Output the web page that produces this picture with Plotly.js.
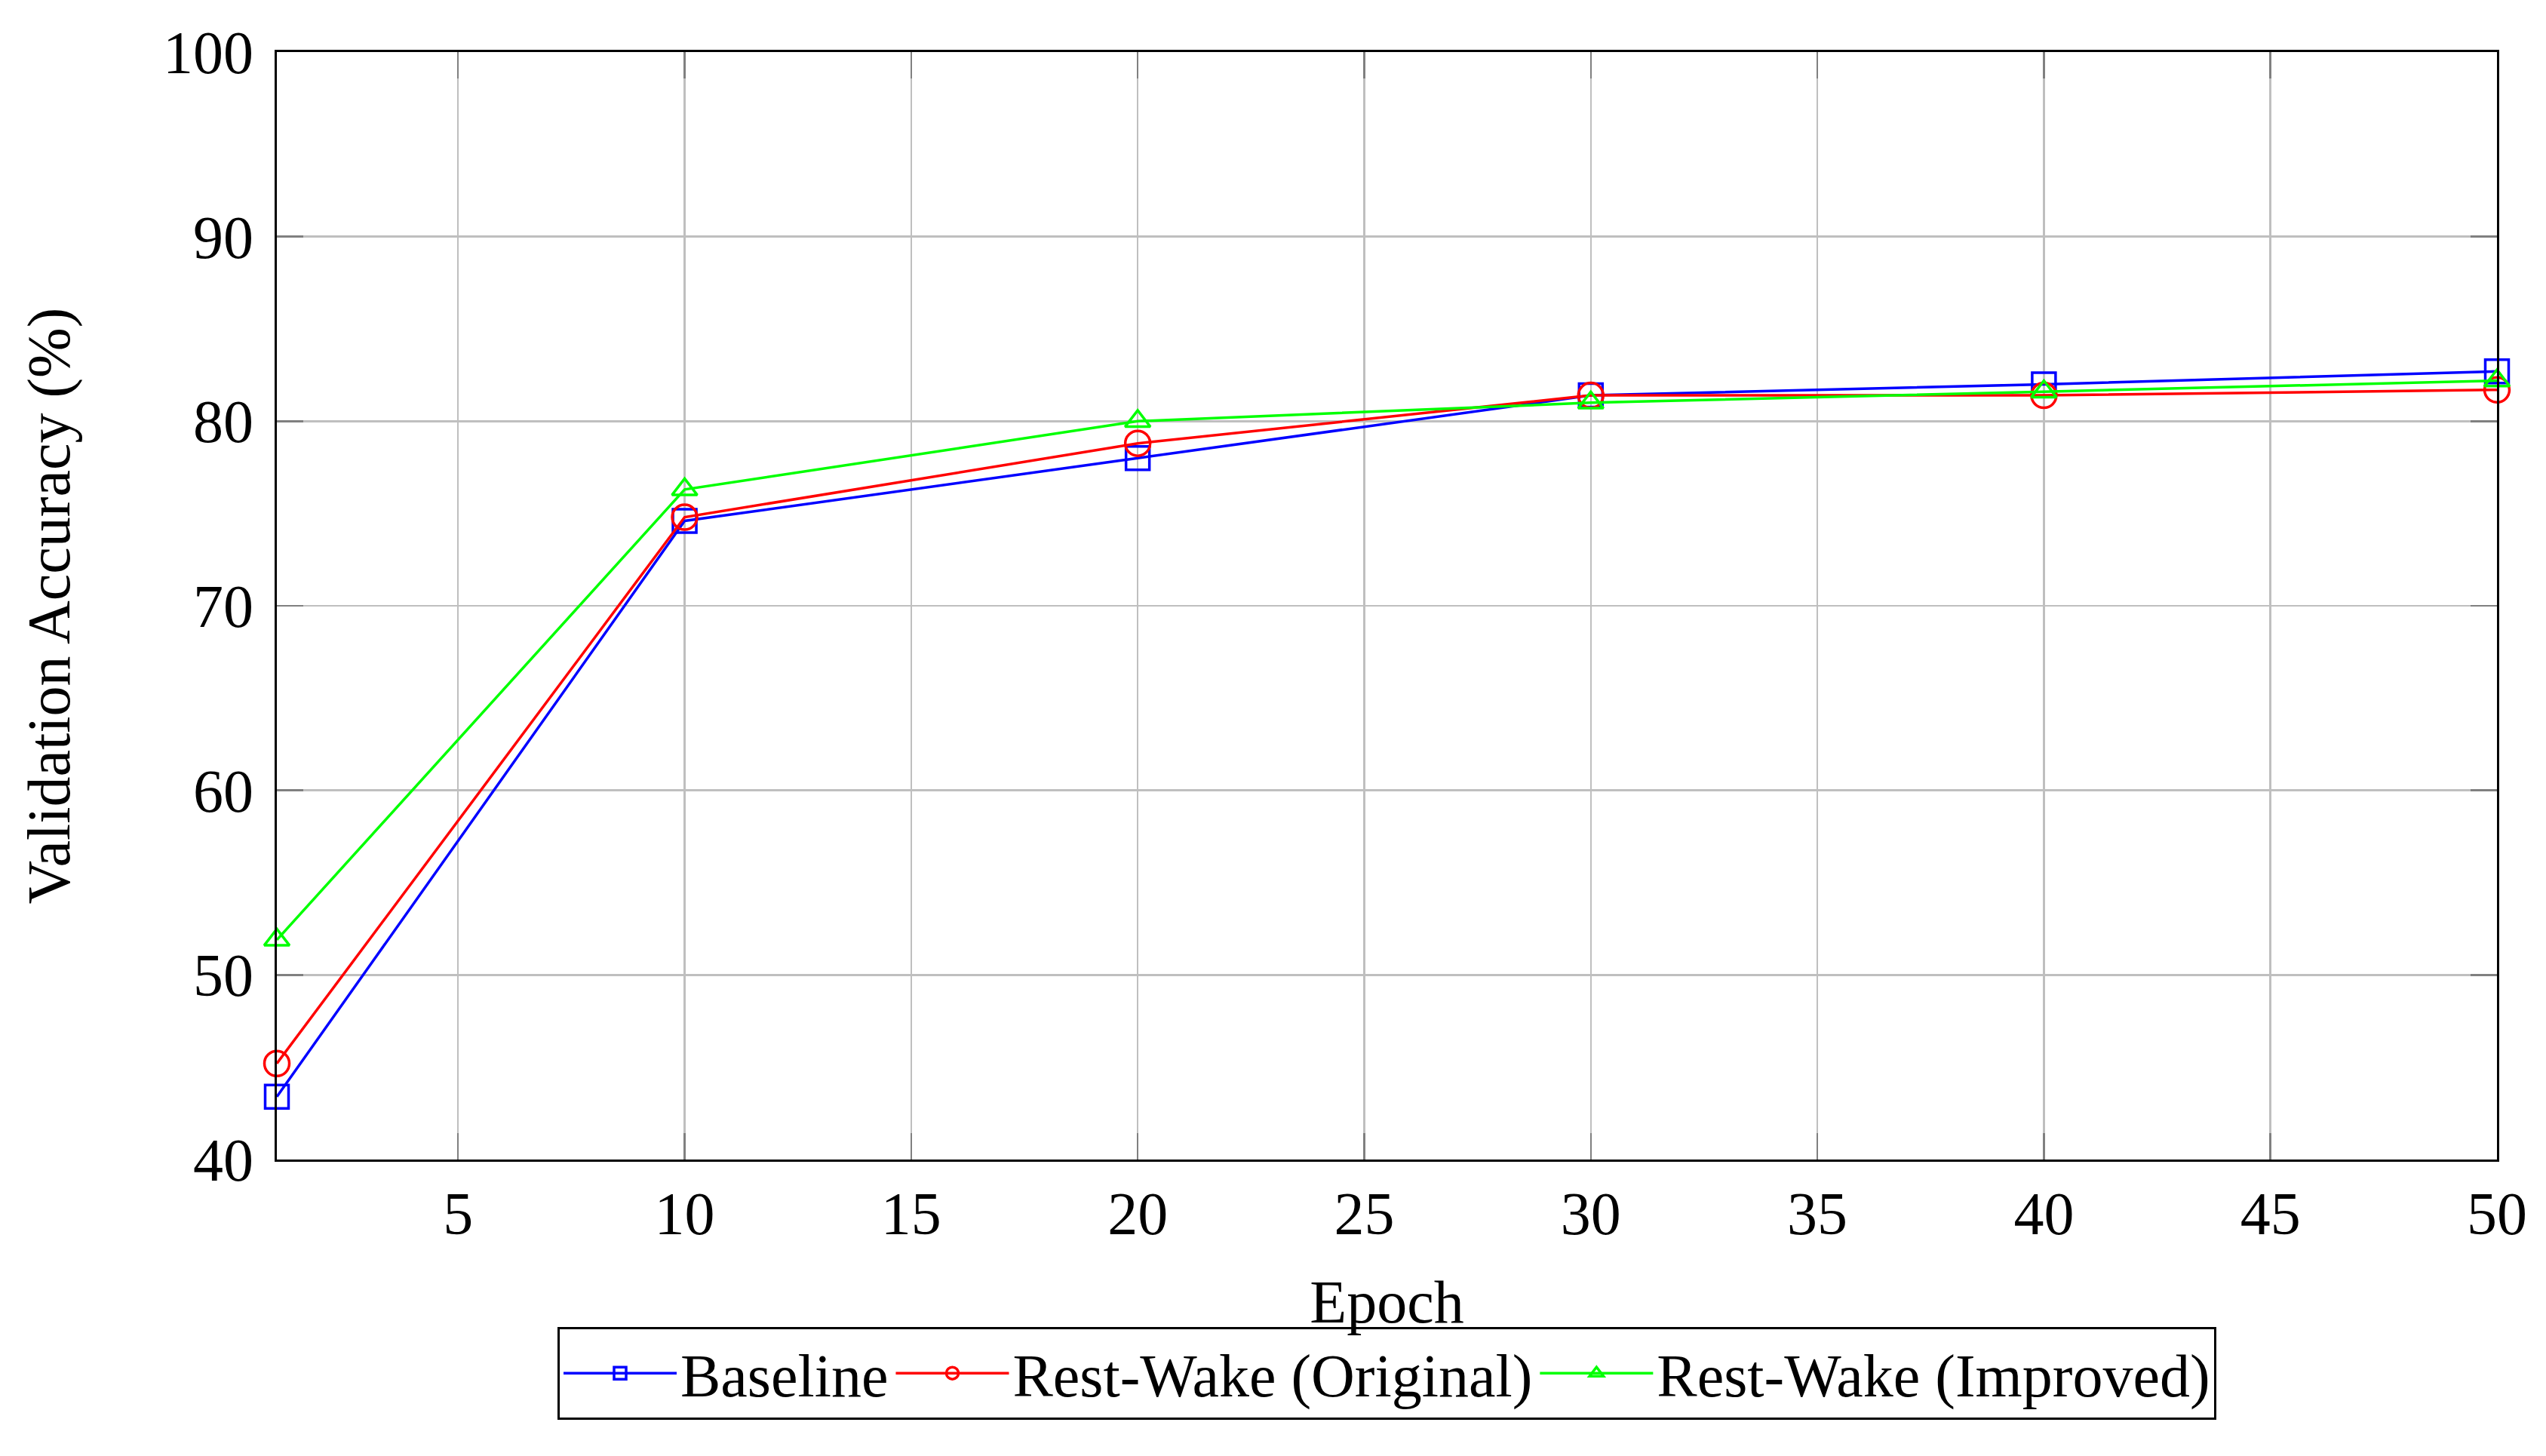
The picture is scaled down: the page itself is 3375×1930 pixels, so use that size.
<!DOCTYPE html>
<html>
<head>
<meta charset="utf-8">
<script src="https://cdn.plot.ly/plotly-3.0.1.min.js"></script>
<style>
  html, body { margin: 0; padding: 0; background: #ffffff; }
  #chart { width: 3375px; height: 1930px; }
</style>
</head>
<body>
<div id="chart"></div>
<script>
// ---- data ----
const epochs = [1, 10, 20, 30, 40, 50];
const baseline = [43.4, 74.6, 78.0, 81.4, 82.0, 82.7];
const restWakeOriginal = [45.2, 74.8, 78.8, 81.4, 81.4, 81.7];
const restWakeImproved = [51.9, 76.3, 80.0, 81.0, 81.6, 82.2];
const seriesNames = ["Baseline", "Rest-Wake (Original)", "Rest-Wake (Improved)"];
const xTickVals = [5, 10, 15, 20, 25, 30, 35, 40, 45, 50];
const yTickVals = [40, 50, 60, 70, 80, 90, 100];
const xTitle = "Epoch";
const yTitle = "Validation Accuracy (%)";

const FONT = "Liberation Serif, Times New Roman, serif";

function trace(y, name, color, symbol, size) {
  return {
    x: epochs, y: y, name: name, type: "scatter", mode: "lines+markers",
    line: { color: color, width: 3.5 },
    marker: { symbol: symbol, size: size, color: color, line: { color: color, width: 3.5 } },
    cliponaxis: false
  };
}

const data = [
  trace(baseline, seriesNames[0], "#0000ff", "square-open", 31),
  trace(restWakeOriginal, seriesNames[1], "#ff0000", "circle-open", 33),
  trace(restWakeImproved, seriesNames[2], "#00ff00", "triangle-up-open", 29)
];

const axisCommon = {
  showline: true, linecolor: "#000000", linewidth: 3, mirror: "ticks",
  ticks: "inside", ticklen: 35, tickwidth: 2.5, tickcolor: "#808080",
  showgrid: true, gridcolor: "#bfbfbf", gridwidth: 2.5,
  zeroline: false,
  tickfont: { family: FONT, size: 80, color: "#000000" }
};

const layout = {
  width: 3375, height: 1930,
  margin: { l: 367, r: 65, t: 69, b: 393, pad: 0 },
  paper_bgcolor: "#ffffff", plot_bgcolor: "#ffffff",
  font: { family: FONT, size: 80, color: "#000000" },
  showlegend: true,
  xaxis: Object.assign({}, axisCommon, {
    range: [1, 50], tickmode: "array", tickvals: xTickVals,
    ticktext: xTickVals.map(String),
    title: { text: xTitle, font: { family: FONT, size: 80 }, standoff: 45 },
    automargin: false
  }),
  yaxis: Object.assign({}, axisCommon, {
    range: [40, 100], tickmode: "array", tickvals: yTickVals,
    ticktext: yTickVals.map(String),
    ticklabelstandoff: 12,
    title: { text: yTitle, font: { family: FONT, size: 80 }, standoff: 98 },
    automargin: false
  }),
  legend: {
    orientation: "h", x: 0.5, xanchor: "center", y: -0.151, yanchor: "top",
    bordercolor: "#000000", borderwidth: 3, bgcolor: "#ffffff",
    font: { family: FONT, size: 80, color: "#000000" },
    itemwidth: 150, tracegroupgap: 0, traceorder: "normal"
  }
};

Plotly.newPlot("chart", data, layout, { displayModeBar: false, staticPlot: true });
</script>
</body>
</html>
